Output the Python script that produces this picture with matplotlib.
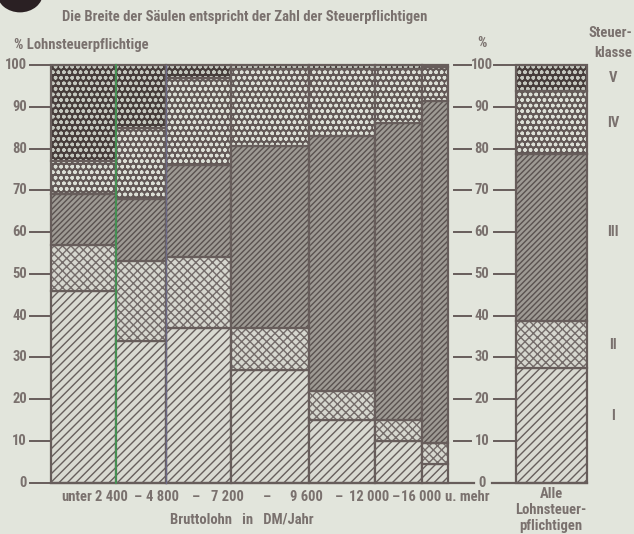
import matplotlib
matplotlib.use("Agg")
import matplotlib.pyplot as plt
from matplotlib.patches import Rectangle, Circle
from matplotlib import font_manager as fm

# ---------------- data ----------------
groups = ["unter 2 400", "2 400 – 4 800", "4 800 – 7 200", "7 200 – 9 600",
          "9 600 – 12 000", "12 000 – 16 000", "16 000 u. mehr"]
boundary_labels = ["2 400", "4 800", "7 200", "9 600", "12 000", "16 000"]
# share of taxpayers in each income group (column widths, %)
widths = [16.4, 12.6, 16.4, 19.6, 16.6, 11.8, 6.6]
# share of each tax class within each income group (%)
cls_I = [46, 34, 37, 27, 15, 10, 4.5]
cls_II = [11, 19, 17, 10, 7, 5, 5]
cls_III = [12, 15, 22, 43.5, 61, 71, 82]
cls_IV = [8, 17, 21, 18.5, 16, 13, 8]
cls_V = [23, 15, 3, 1, 1, 1, 0.5]
# all taxpayers
alle = [27.5, 11.3, 40.0, 15.0, 6.2]
class_names = ["I", "II", "III", "IV", "V"]
yticks = [0, 10, 20, 30, 40, 50, 60, 70, 80, 90, 100]
TITLE = "Die Breite der Säulen entspricht der Zahl der Steuerpflichtigen"

# ---------------- font choice (a condensed face if one exists) ----------------
def _w(f):
    w = f.weight
    if isinstance(w, str):
        w = {"normal": 400, "regular": 400, "book": 400, "medium": 500,
             "semibold": 600, "demibold": 600, "bold": 700, "heavy": 800,
             "black": 900, "light": 300}.get(w.lower(), 400)
    return w


def _fam_score(f):
    p = f.fname.replace(" ", "")
    if "Italic" in p or "Oblique" in p:
        return 9
    if "NotoSans" in p and "Condensed" in p and "ExtraCondensed" not in p \
            and "SemiCondensed" not in p and "Mono" not in p:
        return 0
    if "RobotoCondensed" in p or ("Roboto" in p and "Condensed" in p):
        return 1
    if "Narrow" in p and "Liberation" in p:
        return 2
    if "DejaVu" in p:
        return 5
    if "SemiCondensed" in p:
        return 4
    if "ExtraCondensed" in p:
        return 6
    return 3


cands = []
for f in fm.fontManager.ttflist:
    st = str(f.stretch)
    n = f.name
    if "Mono" in n or "Serif" in n or "CJK" in n:
        continue
    if ("Condensed" in n or "Narrow" in n or st in ("condensed", "semi-condensed",
                                                   "extra-condensed")
            or "Condensed" in f.fname or "Narrow" in f.fname):
        cands.append(f)
if cands:
    cands.sort(key=lambda f: (_fam_score(f), abs(_w(f) - 650)))
    FONT_ARGS = dict(fname=cands[0].fname)
else:
    FONT_ARGS = dict(family="DejaVu Sans", weight="bold")

# ---------------- style ----------------
BG = "#e2e5dc"
LINE = "#675d5b"
TXT = "#7a716e"
plt.rcParams["hatch.linewidth"] = 1.0

styles = [
    dict(facecolor="#d9dad2", hatch="////", edgecolor="#675f5d"),   # I
    dict(facecolor="#d6d7cf", hatch="xxxx", edgecolor="#746c6a"),   # II
    dict(facecolor="#9e9a94", hatch="//////", edgecolor="#5a5250"),  # III
    dict(facecolor="#625856", hatch="ooo", edgecolor="#dcdfd6"),    # IV
    dict(facecolor="#463c3a", hatch="ooo", edgecolor="#c4c7be"),    # V
]

W, H = 634, 534
fig = plt.figure(figsize=(W / 100, H / 100), dpi=100, facecolor=BG)

# size the text so the title has the reference width (376 px)
renderer = fig.canvas.get_renderer()
_probe = fig.text(0, 0, TITLE, fontproperties=fm.FontProperties(size=10, **FONT_ARGS))
_wpx = _probe.get_window_extent(renderer).width
_probe.remove()
FSIZE = max(7.5, min(10.5, 10 * 376 / _wpx))
FP = fm.FontProperties(size=FSIZE, **FONT_ARGS)
FP_TICK = fm.FontProperties(size=min(10.5, FSIZE * 1.08), **FONT_ARGS)

X0, X1 = 51, 587       # pixel extent of axes
Y0, Y1 = 482.7, 65     # pixel of 0 and 100
XMAX = 135.0
ax = fig.add_axes([X0 / W, 1 - Y0 / H, (X1 - X0) / W, (Y0 - Y1) / H])
ax.set_xlim(0, XMAX)
ax.set_ylim(0, 100)
ax.axis("off")

pxu = (X1 - X0) / XMAX


def xd(px):
    return (px - X0) / pxu


def ft(px, py):
    return px / W, 1 - py / H


def T(fp=None, **kw):
    kw.setdefault("color", TXT)
    kw["fontproperties"] = fp if fp is not None else FP
    return kw


def draw_column(x, w, vals):
    b = 0
    for v, st in zip(vals, styles):
        if v > 0:
            ax.add_patch(Rectangle((x, b), w, v, linewidth=0, clip_on=False, **st))
            ax.add_patch(Rectangle((x, b), w, v, fill=False, edgecolor=LINE,
                                   linewidth=1.6, clip_on=False))
        b += v


series = [cls_I, cls_II, cls_III, cls_IV, cls_V]
x = 0.0
for i, w in enumerate(widths):
    draw_column(x, w, [s[i] for s in series])
    x += w

# coloured scan lines on the first two divisions
ax.plot([widths[0]] * 2, [0, 100], color="#3f9a52", lw=1.2, clip_on=False, zorder=5)
ax.plot([widths[0] + widths[1]] * 2, [0, 100], color="#6c6a86", lw=1.0,
        clip_on=False, zorder=5)

alle_x = xd(516)
draw_column(alle_x, XMAX - alle_x, alle)

# ---------------- axes ticks ----------------
for v in yticks:
    ax.plot([xd(30), 0], [v, v], color=LINE, lw=1.4, clip_on=False)
    ax.text(xd(27), v, str(v), ha="right", va="center", **T(FP_TICK))
    if v == 0:
        ax.plot([0, xd(474)], [0, 0], color=LINE, lw=1.6, clip_on=False)
        ax.plot([xd(492), XMAX], [0, 0], color=LINE, lw=1.6, clip_on=False)
    else:
        ax.plot([xd(454), xd(471)], [v, v], color=LINE, lw=1.4, clip_on=False)
        ax.plot([xd(494), alle_x], [v, v], color=LINE, lw=1.4, clip_on=False)
    ax.text(xd(482), v, str(v), ha="center", va="center", **T(FP_TICK))

# class labels at the right
class_pos = [16, 33, 60, 86, 97]
for name, yv in zip(class_names, class_pos):
    ax.text(xd(613), yv, name, ha="center", va="center", **T(FP_TICK))

# ---------------- x labels ----------------
ylab = 1 - 497 / H
cum = [sum(widths[:i + 1]) for i in range(len(widths) - 1)]
bpx = [X0 + c * pxu for c in cum]
label_shift = [-5, -4, -4, -3, -6, -1]
fig.text(77 / W, ylab, "unter", ha="center", va="center", **T())
for lab, p, s in zip(boundary_labels, bpx, label_shift):
    fig.text((p + s) / W, ylab, lab, ha="center", va="center", **T())
for a, b in zip(bpx[:-1], bpx[1:]):
    fig.text(((a + b) / 2 - 3) / W, ylab, "–", ha="center", va="center", **T())
fig.text(467 / W, ylab, "u. mehr", ha="center", va="center", **T())

fig.text(*ft(242, 520), "Bruttolohn   in   DM/Jahr", ha="center", va="center", **T())
fig.text(*ft(551, 510), "Alle\nLohnsteuer-\npflichtigen", ha="center", va="center",
         linespacing=1.2, **T())

# ---------------- titles ----------------
fig.text(*ft(62, 17), TITLE, ha="left", va="center", **T())
fig.text(*ft(14, 45), "% Lohnsteuerpflichtige", ha="left", va="center", **T())
fig.text(*ft(482, 43), "%", ha="center", va="center", **T())
fig.text(*ft(632, 43), "Steuer-\nklasse", ha="right", va="center",
         multialignment="right", linespacing=1.55, **T())

# black dot at the top left
fig.patches.append(Circle(ft(20, -7), 23 / W, transform=fig.transFigure,
                          facecolor="#2a2023", edgecolor="none"))

fig.savefig("out.png", dpi=100, facecolor=BG)
